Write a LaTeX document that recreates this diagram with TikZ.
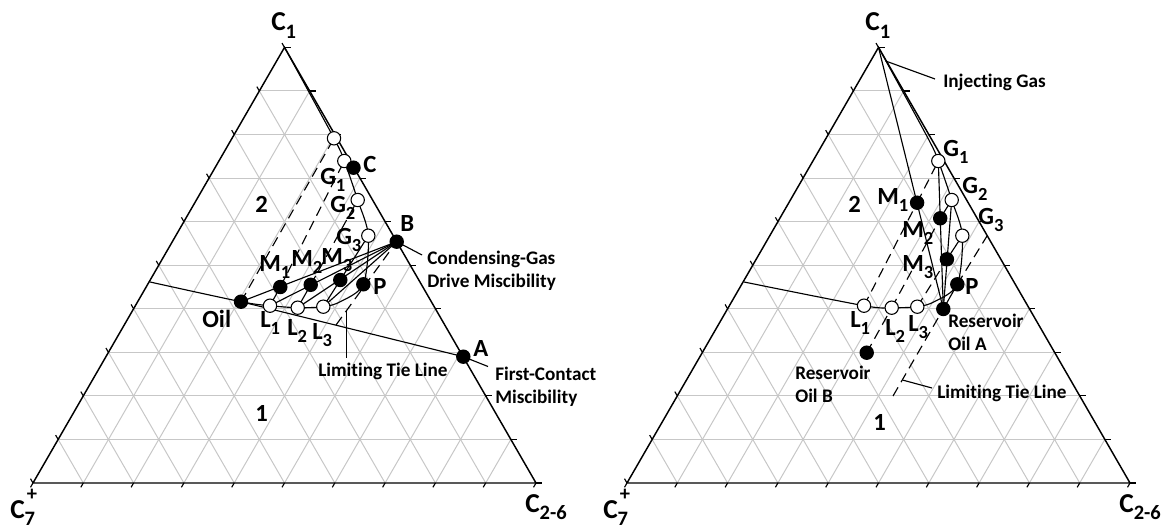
\documentclass[tikz,border=0pt]{standalone}
\usepackage{fontspec}
\setmainfont{Carlito}[Ligatures=NoCommon]
\usepackage{graphicx}
\usetikzlibrary{calc, positioning}

\newcommand{\dn}[1]{\raisebox{-0.26em}{\scalebox{0.75}{#1}}}

\begin{document}
\begin{tikzpicture}[
        x = 0.75pt, y = -0.75pt,
        every node/.style = {inner sep=0pt, font=\bfseries},
        point label/.style = {font=\bfseries\fontsize{18.5}{20}\selectfont, anchor=base west},
        corner label/.style = {font=\bfseries\fontsize{20.5}{22}\selectfont, anchor=base west},
        remark/.style = {font=\bfseries\fontsize{14.4}{17.25}\selectfont, align=left, anchor=base west},
        filled dot/.style = {circle, draw, line width=0.8pt, fill=black, minimum size=10pt},
        open dot/.style = {circle, draw, line width=0.8pt, fill=white, minimum size=10pt},
        line/.style = {draw, line width=0.85pt},
        tie line/.style = {line, dash pattern=on 7.5pt off 4.5pt},
        side line/.style = {draw, line width=1.1pt},
        grid line/.style = {draw, black!22, line width=0.75pt}
    ]
    \useasboundingbox (0,0) rectangle (1169,530);

    % Grids and triangles
    \foreach \ox in {0,594} {
        \begin{scope}[shift={(\ox,0)}]
            \foreach \k in {1,...,9} {
                \path [grid line] ({33+25.15*\k},{483-43.56*\k}) -- ({536-25.15*\k},{483-43.56*\k});
                \path [grid line] ({33+50.3*\k},483) -- ({536-25.15*(10-\k)},{483-43.56*(10-\k)});
                \path [grid line] ({33+50.3*\k},483) -- ({33+25.15*\k},{483-43.56*\k});
            }
            \foreach \k in {0,...,10} {
                \path [line] ({33+50.3*\k},483) -- ++(-2.5,4.3);
                \path [line] ({536-25.15*\k},{483-43.56*\k}) -- ++(6,0);
                \path [line] ({33+25.15*\k},{483-43.56*\k}) -- ++(-2.5,-4.3);
            }
            \path [side line] (33,483) -- (284.5,47.4) -- (536,483) -- cycle;
        \end{scope}
    }

    % Points, condensing gas drive
    \coordinate (apex) at (284.5,47.4);
    \coordinate (binl) at (150,282);
    \coordinate (oil) at (241,301.7);
    \coordinate (l1) at (270,305.7);
    \coordinate (l2) at (297.7,307.7);
    \coordinate (l3) at (323.3,306.7);
    \coordinate (bend) at (340.5,301.6);
    \coordinate (p) at (363.3,284.3);
    \coordinate (g3) at (368.3,235.7);
    \coordinate (g2) at (357.7,200);
    \coordinate (g1) at (344.3,161);
    \coordinate (top) at (334,138.3);
    \coordinate (c) at (353.5,167.7);
    \coordinate (b) at (396.7,241.7);
    \coordinate (a) at (463.3,356.7);
    \coordinate (m1) at (280.3,287);
    \coordinate (m2) at (310.7,284.8);
    \coordinate (m3) at (340.3,280);
    \coordinate (ltlo) at (336,325);
    \coordinate (ltl) at (346.2,311);
    \coordinate (ltl end) at (346.2,358);
    \coordinate (b end) at (422,255);
    \coordinate (a end) at (488,366.5);

    % Points, vaporizing gas drive
    \coordinate (rapex) at ($(apex)+(594,0)$);
    \coordinate (rbinl) at ($(binl)+(594,0)$);
    \coordinate (rl1) at ($(l1)+(594,0)$);
    \coordinate (rl2) at ($(l2)+(594,0)$);
    \coordinate (rl3) at ($(l3)+(594,0)$);
    \coordinate (rbend) at ($(bend)+(594,0)$);
    \coordinate (rp) at ($(p)+(594,0)$);
    \coordinate (rg3) at ($(g3)+(594,0)$);
    \coordinate (rg2) at ($(g2)+(594,0)$);
    \coordinate (rg1) at ($(g1)+(594,0)$);
    \coordinate (rtop) at ($(top)+(594,0)$);
    \coordinate (oila) at (943.3,309);
    \coordinate (oilb) at (866.7,352.7);
    \coordinate (rm1) at (917.1,202.7);
    \coordinate (rm2) at (940.2,218.3);
    \coordinate (rm3) at (946.9,259.3);
    \coordinate (rltlo) at (893,396);
    \coordinate (rlthi) at (987,236);
    \coordinate (rltl) at ($(rltlo)!0.1!(rlthi)$);
    \coordinate (rltl end) at (932,388);
    \coordinate (inj) at ($(rapex)!0.12!(rg1)$);
    \coordinate (inj end) at (935,79);

    % Lines, condensing gas drive
    \path [line] plot [smooth, tension=0.5] coordinates {(binl) (oil) (l1) (l2) (l3) (bend) (p) (g3) (g2) (g1) (top) (apex)};
    \path [line] (oil) -- (a);
    \path [line] (a) -- (a end);
    \path [line] (b) -- (b end);
    \path [line] (b) -- (oil);
    \path [line] (b) -- (l1);
    \path [line] (b) -- (l2);
    \path [line] (b) -- (l3);
    \path [tie line] (oil) -- (top);
    \path [line] (l1) -- (m1);
    \path [tie line] (m1) -- (g1);
    \path [line] (l2) -- (m2);
    \path [tie line] (m2) -- (g2);
    \path [line] (l3) -- (m3);
    \path [line] (m3) -- (g3);
    \path [tie line] (ltlo) -- (b);
    \path [line] (ltl) -- (ltl end);

    % Lines, vaporizing gas drive
    \path [line] plot [smooth, tension=0.5] coordinates {(rbinl) (rl1) (rl2) (rl3) (rbend) (rp) (rg3) (rg2) (rg1) (rtop) (rapex)};
    \path [line] (rapex) -- (oila);
    \path [line] (rg1) -- (oila);
    \path [line] (rg2) -- (oila);
    \path [tie line] (rl1) -- (rm1);
    \path [tie line] (rm1) -- (rg1);
    \path [tie line] (oilb) -- (rl2);
    \path [tie line] (rl2) -- (rm2);
    \path [line] (rm2) -- (rg2);
    \path [tie line] (rl3) -- (rm3);
    \path [line] (rm3) -- (rg3);
    \path [tie line] (rltlo) -- (oila);
    \path [line] (oila) -- (rp);
    \path [tie line] (rp) -- (rlthi);
    \path [line] (rltl) -- (rltl end);
    \path [line] (inj) -- (inj end);

    % Dots
    \node [open dot] (top dot) at (top) {};
    \node [open dot] (g1 dot) at (g1) {};
    \node [filled dot] (c dot) at (c) {};
    \node [open dot] (g2 dot) at (g2) {};
    \node [open dot] (g3 dot) at (g3) {};
    \node [filled dot] (b dot) at (b) {};
    \node [filled dot] (m1 dot) at (m1) {};
    \node [filled dot] (m2 dot) at (m2) {};
    \node [filled dot] (m3 dot) at (m3) {};
    \node [filled dot] (p dot) at (p) {};
    \node [filled dot] (oil dot) at (oil) {};
    \node [open dot] (l1 dot) at (l1) {};
    \node [open dot] (l2 dot) at (l2) {};
    \node [open dot] (l3 dot) at (l3) {};
    \node [filled dot] (a dot) at (a) {};

    \node [open dot] (rg1 dot) at (rg1) {};
    \node [open dot] (rg2 dot) at (rg2) {};
    \node [open dot] (rg3 dot) at (rg3) {};
    \node [filled dot] (rm1 dot) at (rm1) {};
    \node [filled dot] (rm2 dot) at (rm2) {};
    \node [filled dot] (rm3 dot) at (rm3) {};
    \node [filled dot] (rp dot) at (rp) {};
    \node [open dot] (rl1 dot) at (rl1) {};
    \node [open dot] (rl2 dot) at (rl2) {};
    \node [open dot] (rl3 dot) at (rl3) {};
    \node [filled dot] (oila dot) at (oila) {};
    \node [filled dot] (oilb dot) at (oilb) {};

    % Labels, condensing gas drive
    \node [corner label] (c1 lbl) at (271,31) {C\dn{1}};
    \node [corner label] (c7 lbl) at (10,518) {C\dn{7}\hspace{-0.3em}\raisebox{0.65em}{\scalebox{0.75}{+}}};
    \node [corner label] (c26 lbl) at (525,512) {C\dn{2-6}};
    \node [point label] (c lbl) at (363,173) {C};
    \node [point label] (g1 lbl) at (320,185) {G\dn{1}};
    \node [point label] (g2 lbl) at (330,213) {G\dn{2}};
    \node [point label] (g3 lbl) at (336,245) {G\dn{3}};
    \node [point label] (b lbl) at (400,232) {B};
    \node [point label] (m1 lbl) at (259,272) {M\dn{1}};
    \node [point label] (m2 lbl) at (291,267) {M\dn{2}};
    \node [point label] (m3 lbl) at (321,265) {M\dn{3}};
    \node [point label] (p lbl) at (373,295) {P};
    \node [point label] (oil lbl) at (202,328) {Oil};
    \node [point label] (l1 lbl) at (260,328) {L\dn{1}};
    \node [point label] (l2 lbl) at (287,336) {L\dn{2}};
    \node [point label] (l3 lbl) at (312,340) {L\dn{3}};
    \node [point label] (a lbl) at (473,357) {A};
    \node [point label] (two lbl) at (255,213) {2};
    \node [point label] (one lbl) at (255,421) {1};
    \node [remark, anchor=west] (cgd lbl) at (427,271) {Condensing-Gas\\Drive Miscibility};
    \node [remark, anchor=west] (fcm lbl) at (495,387) {First-Contact\\Miscibility};
    \node [remark] (ltl lbl) at (318,377) {Limiting Tie Line};

    % Labels, vaporizing gas drive
    \node [corner label] (rc1 lbl) at (865,31) {C\dn{1}};
    \node [corner label] (rc7 lbl) at (603,518) {C\dn{7}\hspace{-0.3em}\raisebox{0.65em}{\scalebox{0.75}{+}}};
    \node [corner label] (rc26 lbl) at (1119,512) {C\dn{2-6}};
    \node [remark] (inj lbl) at (943,88) {Injecting Gas};
    \node [point label] (rg1 lbl) at (943,157) {G\dn{1}};
    \node [point label] (rg2 lbl) at (962,194) {G\dn{2}};
    \node [point label] (rg3 lbl) at (978,225) {G\dn{3}};
    \node [point label] (rm1 lbl) at (877,205) {M\dn{1}};
    \node [point label] (rm2 lbl) at (902,238) {M\dn{2}};
    \node [point label] (rm3 lbl) at (902,272) {M\dn{3}};
    \node [point label] (rp lbl) at (965,295) {P};
    \node [point label] (rl1 lbl) at (850,328) {L\dn{1}};
    \node [point label] (rl2 lbl) at (885,336) {L\dn{2}};
    \node [point label] (rl3 lbl) at (908,332) {L\dn{3}};
    \node [point label] (rtwo lbl) at (848,213) {2};
    \node [point label] (rone lbl) at (873,430) {1};
    \node [remark, anchor=west] (oila lbl) at (948,332) {Reservoir\\Oil A};
    \node [remark, anchor=west] (oilb lbl) at (795,384) {Reservoir\\Oil B};
    \node [remark] (rltl lbl) at (937,398) {Limiting Tie Line};

\end{tikzpicture}
\end{document}
